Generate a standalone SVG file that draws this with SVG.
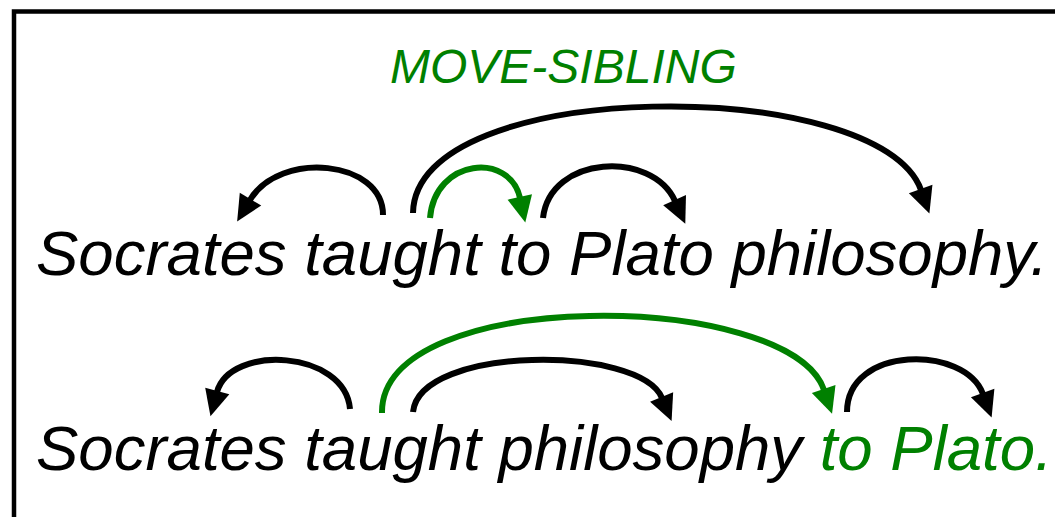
<svg xmlns="http://www.w3.org/2000/svg" width="1055" height="517" viewBox="0 0 1055 517">
<style>
.t{font-family:"Liberation Sans",Arial,sans-serif;font-style:italic;font-size:63.5px;fill:#000}
.g{fill:#008000}
.lab{font-family:"Liberation Sans",Arial,sans-serif;font-style:italic;font-size:48px;fill:#008000}
.a{fill:none;stroke:#000;stroke-width:6}
.ag{fill:none;stroke:#008000;stroke-width:6}
</style>
<defs>
<marker id="hb" markerUnits="userSpaceOnUse" markerWidth="30" markerHeight="30" refX="0" refY="12.5" orient="auto" overflow="visible">
<path d="M-1,0 L25,12.5 L-1,25 Z" fill="#000"/>
</marker>
<marker id="hg" markerUnits="userSpaceOnUse" markerWidth="30" markerHeight="30" refX="0" refY="12.5" orient="auto" overflow="visible">
<path d="M-1,0 L25,12.5 L-1,25 Z" fill="#008000"/>
</marker>
</defs>
<rect x="14" y="11.5" width="1100" height="600" fill="#fff" stroke="#000" stroke-width="4.5"/>
<g id="label"><text class="lab" x="390" y="83">MOVE-SIBLING</text></g>
<g id="sentence1"><text class="t" x="36" y="275">Socrates taught to Plato philosophy.</text></g>
<g id="sentence2"><text class="t" x="36" y="470">Socrates taught philosophy <tspan class="g">to Plato.</tspan></text></g>
<g id="connectors">
<path class="a" d="M383,215 C383,160 280,150 250,200" marker-end="url(#hb)"/>
<path class="a" d="M413,213 C415,75 880,75 921,190" marker-end="url(#hb)"/>
<path class="ag" d="M430,218 C435,158 510,152 520,198" marker-end="url(#hg)"/>
<path class="a" d="M543,218 C550,155 652,150 675,201" marker-end="url(#hb)"/>
<path class="a" d="M350,409 C345,350 230,344 217,392" marker-end="url(#hb)"/>
<path class="ag" d="M382,413 C380,285 790,290 824,390" marker-end="url(#hg)"/>
<path class="a" d="M413,412 C420,345 640,345 662,398" marker-end="url(#hb)"/>
<path class="a" d="M847,412 C847,345 965,345 983,394" marker-end="url(#hb)"/>
</g>
</svg>
